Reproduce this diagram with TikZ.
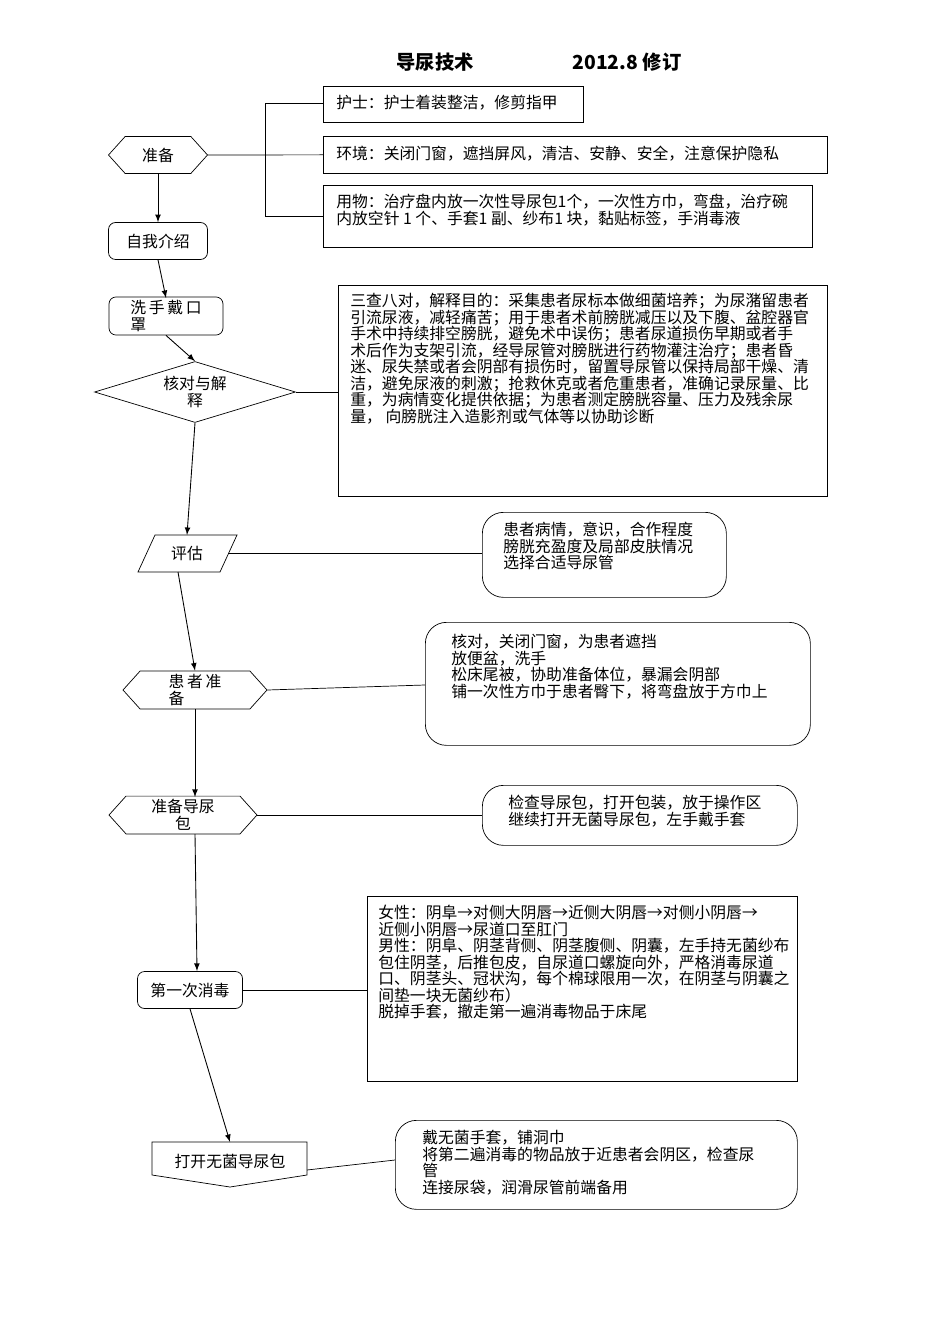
\documentclass[tikz,border=0pt]{standalone}
\usepackage{fontspec}
\setmainfont{Noto Sans CJK SC}
\usetikzlibrary{shapes.geometric,shapes.symbols}

\tikzset{
	box/.style={draw, anchor=north west, inner sep=0pt},
	rbox/.style={box, rounded corners=12pt},
	stepbox/.style={draw, rounded corners=4pt, inner sep=2pt},
	hexa/.style={draw, signal, signal to=west and east, signal pointer angle=96, inner sep=2pt},
	txt/.style={anchor=north west, align=left, inner sep=0pt, font=\fontsize{9pt}{9.4pt}\selectfont},
	link/.style={-latex, line width=.5pt},
}

\begin{document}
\begin{tikzpicture}[x=0.02cm, y=-0.02cm, font=\fontsize{9pt}{9.4pt}\selectfont]
	\useasboundingbox (0,0) rectangle (950,1344);

	% title
	\node[font=\bfseries\fontsize{11pt}{12pt}\selectfont] (title) at (435,62) {导尿技术};
	\node[font=\bfseries\fontsize{11pt}{12pt}\selectfont] (rev) at (627,62) {2012.8 修订};

	% main column
	\node[hexa, minimum width=99*0.02cm, minimum height=37*0.02cm] (prep) at (158,155) {准备};
	\node[stepbox, minimum width=99*0.02cm, minimum height=37*0.02cm] (intro) at (158,241) {自我介绍};
	\node[stepbox, minimum width=114*0.02cm, minimum height=37*0.02cm, align=left] (wash) at (166,316) {洗\,手\,戴\,口\\罩};
	\node[draw, diamond, aspect=3.3, minimum width=201*0.02cm, minimum height=61*0.02cm, inner sep=0pt, align=center] (check) at (195,392) {核对与解\\释};
	\coordinate (evc) at (187,553);
	\node (eval) at (evc) {评估};
	\draw (138,572) -- (155,535) -- (237,535) -- (220,572) -- cycle;
	\node[hexa, minimum width=144*0.02cm, minimum height=38*0.02cm, align=left] (pat) at (195,690) {患\,者\,准\\备};
	\node[hexa, minimum width=148*0.02cm, minimum height=37*0.02cm, align=center] (pack) at (183,815) {准备导尿\\包};
	\node[stepbox, minimum width=105*0.02cm, minimum height=37*0.02cm] (dis) at (190,990) {第一次消毒};
	\node (open) at (230,1161) {打开无菌导尿包};
	\draw (152,1142) -- (307,1142) -- (307,1175) -- (230,1187) -- (152,1175) -- cycle;

	\draw[link] (prep.south) -- (intro.north);
	\draw[link] (intro.south) -- (166,298);
	\draw[link] (wash.south) -- (check.north);
	\draw[link] (check.south) -- (187,535);
	\draw[link] (178,572) -- (pat.north);
	\draw[link] (pat.south) -- (195,797);
	\draw[link] (195,834) -- (197,971);
	\draw[link] (dis.south) -- (230,1142);

	% side notes
	\node[box, minimum width=260*0.02cm, minimum height=36*0.02cm] (nurse) at (323,86) {};
	\node[txt] at (336,95) {护士：护士着装整洁，修剪指甲};
	\node[box, minimum width=504*0.02cm, minimum height=37*0.02cm] (env) at (323,136) {};
	\node[txt] at (336,146) {环境：关闭门窗，遮挡屏风，清洁、安静、安全，注意保护隐私};
	\node[box, minimum width=489*0.02cm, minimum height=62*0.02cm] (items) at (323,185) {};
	\node[txt] at (336,194) {用物：治疗盘内放一次性导尿包1个，一次性方巾，弯盘，治疗碗\\内放空针 1 个、手套1 副、纱布1 块，黏贴标签，手消毒液};
	\draw (prep.east) -- (env.west);
	\draw (323,103) -- (265,103) -- (265,216) -- (323,216);

	\node[box, minimum width=489*0.02cm, minimum height=211*0.02cm] (aim) at (338,285) {};
	\node[txt] at (350,293) {三查八对，解释目的：采集患者尿标本做细菌培养；为尿潴留患者\\引流尿液，减轻痛苦；用于患者术前膀胱减压以及下腹、盆腔器官\\手术中持续排空膀胱，避免术中误伤；患者尿道损伤早期或者手\\术后作为支架引流，经导尿管对膀胱进行药物灌注治疗；患者昏\\迷、尿失禁或者会阴部有损伤时，留置导尿管以保持局部干燥、清\\洁，避免尿液的刺激；抢救休克或者危重患者，准确记录尿量、比\\重，为病情变化提供依据；为患者测定膀胱容量、压力及残余尿\\量，\ 向膀胱注入造影剂或气体等以协助诊断};
	\draw (check.east) -- (338,392);

	\node[rbox, minimum width=244*0.02cm, minimum height=85*0.02cm] (state) at (482,512) {};
	\node[txt] at (503,522) {患者病情，意识，合作程度\\膀胱充盈度及局部皮肤情况\\选择合适导尿管};
	\draw (228,553) -- (482,553);

	\node[rbox, minimum width=385*0.02cm, minimum height=123*0.02cm] (pos) at (425,622) {};
	\node[txt] at (451,634) {核对，关闭门窗，为患者遮挡\\放便盆，洗手\\松床尾被，协助准备体位，暴漏会阴部\\铺一次性方巾于患者臀下，将弯盘放于方巾上};
	\draw (pat.east) -- (425,685);

	\node[rbox, minimum width=315*0.02cm, minimum height=60*0.02cm] (glove) at (482,785) {};
	\node[txt] at (508,795) {检查导尿包，打开包装，放于操作区\\继续打开无菌导尿包，左手戴手套};
	\draw (pack.east) -- (482,815);

	\node[box, minimum width=430*0.02cm, minimum height=185*0.02cm] (steps) at (367,896) {};
	\node[txt] at (378,905) {女性：阴阜→对侧大阴唇→近侧大阴唇→对侧小阴唇→\\近侧小阴唇→尿道口至肛门\\男性：阴阜、阴茎背侧、阴茎腹侧、阴囊，左手持无菌纱布\\包住阴茎，后推包皮，自尿道口螺旋向外，严格消毒尿道\\口、阴茎头、冠状沟，每个棉球限用一次，在阴茎与阴囊之\\间垫一块无菌纱布）\\脱掉手套，撤走第一遍消毒物品于床尾};
	\draw (dis.east) -- (367,990);

	\node[rbox, minimum width=402*0.02cm, minimum height=89*0.02cm] (cath) at (395,1120) {};
	\node[txt] at (422,1130) {戴无菌手套，铺洞巾\\将第二遍消毒的物品放于近患者会阴区，检查尿\\管\\连接尿袋，润滑尿管前端备用};
	\draw (307,1170) -- (395,1160);
\end{tikzpicture}
\end{document}
